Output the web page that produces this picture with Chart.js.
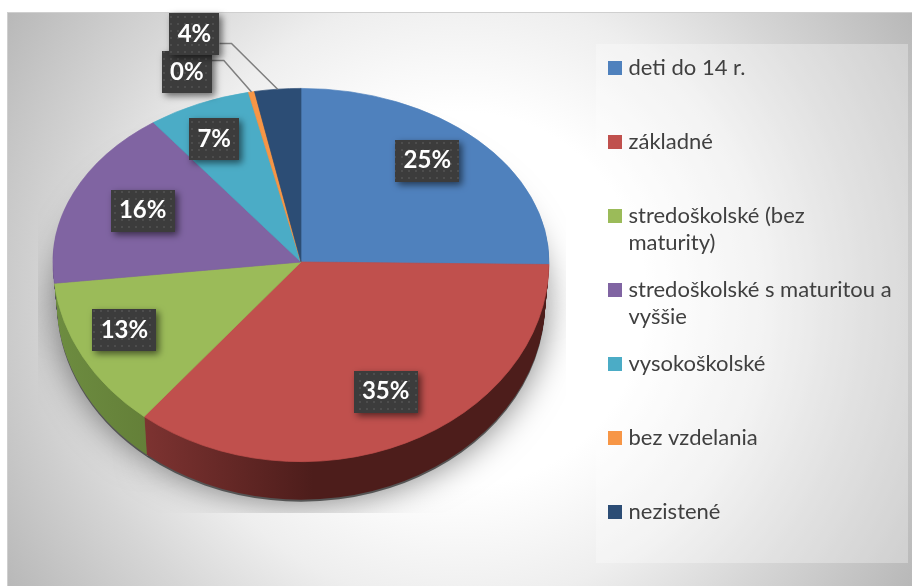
<!DOCTYPE html>
<html>
<head>
<meta charset="utf-8">
<style>
  html, body { margin: 0; padding: 0; background: #fff; }
  canvas { display: block; }
</style>
<script src="https://cdn.jsdelivr.net/npm/chart.js@4"></script>
</head>
<body>
<canvas id="vzdelanie" width="912" height="586"></canvas>
<script>
// the empty second line keeps every legend row the same height
const categories = [
  ['deti do 14 r.', ''],
  ['základné', ''],
  ['stredoškolské (bez', 'maturity)'],
  ['stredoškolské s maturitou a', 'vyššie'],
  ['vysokoškolské', ''],
  ['bez vzdelania', ''],
  ['nezistené']
];
const values = [25.2, 35.7, 12.4, 16.55, 6.75, 0.4, 3.0];
const percentLabels = ['25%', '35%', '13%', '16%', '7%', '0%', '4%'];

const topColors = ['#4f81bd', '#c0504d', '#9bbb59', '#8064a2', '#4bacc6', '#f79646', '#2c4d75'];
const wallLeft = ['#2f4d71', '#7d3331', '#6d8c40', '#4c3c61', '#2d6776', '#94592a', '#1a2e46'];
const wallRight = ['#2f4d71', '#4d1d1b', '#5c7532', '#4c3c61', '#2d6776', '#94592a', '#1a2e46'];
const wallFrom = [300, 143, 55, 55, 55, 55, 55];

// offset of each label from its slice, pixels
const labelDx = [-6, 6, -13, 12, -10, -77, -89];
const labelDy = [-10, -6, -3, 1, -4, -62, -98];

// perspective: the far half of the pie is flatter than the near half
const SQUASH_BACK = 0.7;
const SQUASH_FRONT = 0.805;
const DEPTH = 38;
const BOTTOM_SHRINK = 0.985;

const backdrop = {
  id: 'backdrop',
  beforeDraw(chart) {
    const ctx = chart.ctx;
    ctx.save();
    ctx.fillStyle = '#fff';
    ctx.fillRect(0, 0, 912, 586);
    const g = ctx.createRadialGradient(459, 299, 0, 459, 299, 535);
    g.addColorStop(0, '#ffffff');
    g.addColorStop(0.35, '#ffffff');
    g.addColorStop(0.57, '#eeeeee');
    g.addColorStop(0.75, '#d6d6d6');
    g.addColorStop(1, '#b8b8b8');
    ctx.fillStyle = g;
    ctx.fillRect(7, 12, 905, 574);
    ctx.fillStyle = '#cfcfcf';
    ctx.fillRect(7, 12, 905, 1);
    ctx.fillRect(7, 12, 1, 574);
    ctx.fillStyle = 'rgba(255,255,255,0.3)';
    ctx.fillRect(596, 44, 312, 519);
    ctx.restore();
  }
};

const moveLegend = {
  id: 'moveLegend',
  afterLayout(chart) {
    const l = chart.legend;
    l.left = 592.5; l.right = 912; l.top = 37; l.bottom = 586;
  }
};

const drawArcWith = (arc, ctx, fill) => {
  const saved = arc.options;
  arc.options = Object.assign({}, saved, { backgroundColor: fill, borderWidth: 0 });
  arc.draw(ctx);
  arc.options = saved;
};

// draws the pie once per half, each half with its own flattening
const paintHalves = (ctx, arcs, dy, sx, drawArcs) => {
  const cx = arcs[0].x;
  const cy = arcs[0].y;
  [[SQUASH_BACK, 0, cy + dy], [SQUASH_FRONT, cy + dy, 586]].forEach(([sy, from, to]) => {
    ctx.save();
    ctx.beginPath();
    ctx.rect(0, from, 912, to - from);
    ctx.clip();
    ctx.translate(cx, cy + dy);
    ctx.scale(sx, sy);
    ctx.translate(-cx, -cy);
    drawArcs();
    ctx.restore();
  });
};

const pie3d = {
  id: 'pie3d',
  beforeDatasetsDraw(chart) {
    const ctx = chart.ctx;
    const arcs = chart.getDatasetMeta(0).data;

    // soft shadow, cut off by the plot area like in the original
    ctx.save();
    ctx.beginPath();
    ctx.rect(38, 12, 528, 501);
    ctx.clip();
    ctx.shadowColor = 'rgba(0,0,0,0.5)';
    ctx.shadowBlur = 34;
    paintHalves(ctx, arcs, DEPTH + 2, BOTTOM_SHRINK, () => {
      arcs.forEach(arc => drawArcWith(arc, ctx, '#555'));
    });
    ctx.restore();

    // side wall, stacked from the bottom up
    for (let d = DEPTH; d > 0; d--) {
      const sx = 1 - (1 - BOTTOM_SHRINK) * d / DEPTH;
      paintHalves(ctx, arcs, d, sx, () => {
        arcs.forEach((arc, i) => {
          const g = ctx.createLinearGradient(wallFrom[i], 0, wallFrom[i] + 170, 0);
          g.addColorStop(0, wallLeft[i]);
          g.addColorStop(1, wallRight[i]);
          drawArcWith(arc, ctx, g);
        });
      });
    }

    paintHalves(ctx, arcs, 0, 1, () => arcs.forEach(arc => arc.draw(ctx)));
    return false;
  },
  afterDraw(chart) {
    const ctx = chart.ctx;
    const arcs = chart.getDatasetMeta(0).data;
    const dots = document.createElement('canvas');
    dots.width = dots.height = 7;
    const dc = dots.getContext('2d');
    dc.fillStyle = '#3c3c3c';
    dc.fillRect(0, 0, 7, 7);
    dc.fillStyle = '#4d4d4d';
    dc.fillRect(2, 2, 2, 2);
    const pattern = ctx.createPattern(dots, 'repeat');

    ctx.font = 'bold 24px Lato';
    const spots = arcs.map((arc, i) => {
      const a = (arc.startAngle + arc.endAngle) / 2;
      const sy = Math.sin(a) < 0 ? SQUASH_BACK : SQUASH_FRONT;
      const rimX = arc.x + arc.outerRadius * Math.cos(a);
      const rimY = arc.y + arc.outerRadius * sy * Math.sin(a);
      const x = arc.x + 0.75 * arc.outerRadius * Math.cos(a) + labelDx[i];
      const y = arc.y + 0.75 * arc.outerRadius * sy * Math.sin(a) + labelDy[i];
      const half = Math.round((ctx.measureText(percentLabels[i]).width + 17) / 2);
      return { x, y, rimX, rimY, half };
    });

    // leader lines for the two labels sitting outside the pie
    ctx.save();
    ctx.strokeStyle = '#7f7f7f';
    ctx.lineWidth = 1.5;
    [5, 6].forEach(i => {
      const s = spots[i];
      const yOut = s.y + (i === 5 ? -12 : 9);
      ctx.beginPath();
      ctx.moveTo(s.x + s.half, yOut);
      ctx.lineTo(s.x + s.half + 12, yOut);
      ctx.lineTo(s.rimX, s.rimY);
      ctx.stroke();
    });
    ctx.restore();

    spots.forEach((s, i) => {
      ctx.save();
      ctx.shadowColor = 'rgba(0,0,0,0.55)';
      ctx.shadowBlur = 7;
      ctx.shadowOffsetX = 3;
      ctx.shadowOffsetY = 3;
      ctx.fillStyle = pattern;
      ctx.fillRect(Math.round(s.x) - s.half, Math.round(s.y) - 21, s.half * 2, 42);
      ctx.restore();
      ctx.save();
      ctx.fillStyle = '#fff';
      ctx.font = 'bold 24px Lato';
      ctx.textAlign = 'center';
      ctx.textBaseline = 'middle';
      ctx.fillText(percentLabels[i], s.x, s.y);
      ctx.restore();
    });
  }
};

new Chart(document.getElementById('vzdelanie'), {
  type: 'pie',
  plugins: [backdrop, moveLegend, pie3d],
  data: {
    labels: categories,
    datasets: [{
      data: values,
      radius: 248,
      backgroundColor: topColors,
      borderColor: topColors,
      borderWidth: 0.8
    }]
  },
  options: {
    responsive: false,
    animation: false,
    layout: { padding: { left: 0, right: 310, top: 0, bottom: 62 } },
    plugins: {
      tooltip: { enabled: false },
      legend: {
        position: 'chartArea',
        align: 'start',
        labels: {
          boxWidth: 5,
          boxHeight: 5,
          padding: 20,
          color: '#404040',
          font: { family: 'Lato', size: 22, lineHeight: 1.227 },
          generateLabels(chart) {
            const base = Chart.overrides.pie.plugins.legend.labels.generateLabels(chart);
            // a thick stroke of the same colour grows the box to 14px, keeping the text close
            return base.map(it => Object.assign(it, { strokeStyle: it.fillStyle, lineWidth: 9 }));
          }
        }
      }
    }
  }
});
</script>
</body>
</html>
